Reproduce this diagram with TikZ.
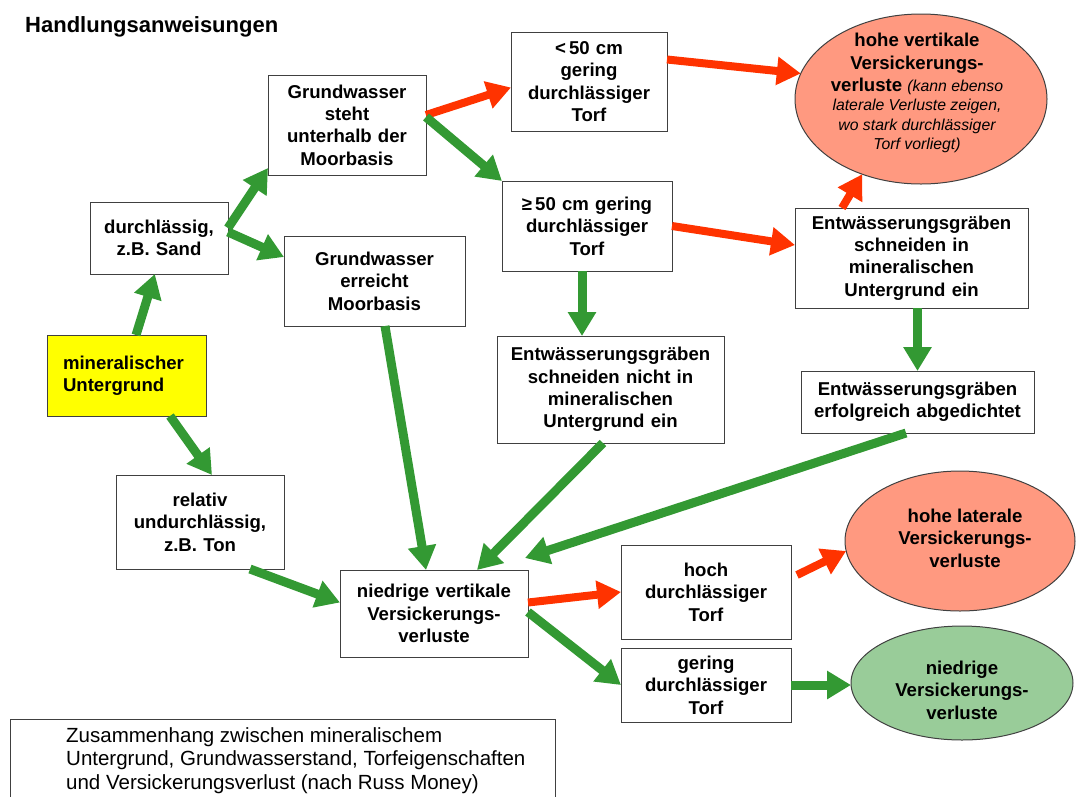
\documentclass[tikz,border=0pt]{standalone}
\usepackage{fontspec}
\setmainfont{Liberation Sans}
\usetikzlibrary{arrows.meta,shapes.geometric,calc}
\definecolor{grn}{HTML}{339933}
\definecolor{rd}{HTML}{FF3300}
\definecolor{salmon}{HTML}{FF9980}
\definecolor{lgreen}{HTML}{99CC99}
\definecolor{ylw}{HTML}{FFFF00}
\definecolor{edgec}{HTML}{404040}
\newcommand\boxfont{\fontsize{18.6}{22.4}\selectfont\bfseries}
\newcommand\smallit{\fontsize{15.8}{19}\selectfont\mdseries\itshape}
\newcommand\capfont{\fontsize{20.5}{23.5}\selectfont}
\begin{document}
\begin{tikzpicture}[x=1pt,y=-1pt,
  box/.style={draw=edgec, line width=1pt, fill=white, align=center, inner sep=0pt, outer sep=0pt, font=\boxfont},
  ell/.style={ellipse, draw=edgec, line width=1pt, inner sep=0pt, outer sep=0pt},
  lbl/.style={align=center, inner sep=0pt, font=\boxfont},
  garrow/.style={draw=grn, line width=9pt, -{Triangle[width=27pt,length=24pt]}},
  rarrow/.style={draw=rd, line width=8pt, -{Triangle[width=27pt,length=24pt]}}
]
\useasboundingbox (0,0) rectangle (1077,796);

\node[anchor=base west, inner sep=0pt, font=\fontsize{22}{26}\selectfont\bfseries] (title) at (25,32) {Handlungsanweisungen};

% boxes
\node[box, minimum width=138pt, minimum height=72pt, text width=132pt] (sand) at (159,238) {durchlässig,\\z.B. Sand};
\node[box, minimum width=158pt, minimum height=100pt, text width=152pt] (gwsteht) at (347,125) {Grundwasser\\steht\\unterhalb der\\Moorbasis};
\node[box, minimum width=181pt, minimum height=90pt, text width=175pt] (gwerreicht) at (374.5,281) {Grundwasser\\erreicht\\Moorbasis};
\node[box, minimum width=156pt, minimum height=99pt, text width=150pt] (lt50) at (589,81.5) {<\,50 cm\\gering\\durchlässiger\\Torf};
\node[box, minimum width=170pt, minimum height=90pt, text width=164pt] (ge50) at (587,226) {≥\,50 cm gering\\durchlässiger\\Torf};
\node[box, minimum width=227pt, minimum height=107pt, text width=221pt] (nicht) at (610.5,389.5) {Entwässerungsgräben\\schneiden nicht in\\mineralischen\\Untergrund ein};
\node[box, minimum width=233pt, minimum height=100pt, text width=227pt] (schnin) at (911.5,258) {Entwässerungsgräben\\schneiden in\\mineralischen\\Untergrund ein};
\node[box, minimum width=233pt, minimum height=62pt, text width=227pt] (abged) at (917.5,402) {Entwässerungsgräben\\erfolgreich abgedichtet};
\node[box, fill=ylw, align=left, minimum width=159pt, minimum height=81pt, text width=127pt, inner xsep=16pt] (miner) at (126.5,375.5) {mineralischer\\Untergrund};
\node[box, minimum width=168pt, minimum height=94pt, text width=162pt] (relativ) at (200,522) {relativ\\undurchlässig,\\z.B. Ton};
\node[box, minimum width=188pt, minimum height=87pt, text width=182pt] (niedrig) at (434,613.5) {niedrige vertikale\\Versickerungs-\\verluste};
\node[box, minimum width=170pt, minimum height=94pt, text width=164pt] (hoch) at (706,592) {hoch\\durchlässiger\\Torf};
\node[box, minimum width=170pt, minimum height=74pt, text width=164pt] (gering) at (706,685) {gering\\durchlässiger\\Torf};

% ellipses
\node[ell, fill=salmon, minimum width=252pt, minimum height=170pt] (hv) at (921,99) {};
\node[lbl, anchor=north] (hvt) at (917,33) {hohe vertikale\\Versickerungs-\\verluste {\smallit(kann ebenso}\\[-3pt]{\smallit laterale Verluste zeigen,}\\[-3pt]{\smallit wo stark durchlässiger}\\[-3pt]{\smallit Torf vorliegt)}};
\node[ell, fill=salmon, minimum width=230pt, minimum height=140pt] (hl) at (960,541) {};
\node[lbl] (hlt) at (965,538) {hohe laterale\\Versickerungs-\\verluste};
\node[ell, fill=lgreen, minimum width=222pt, minimum height=114pt] (nd) at (962,683) {};
\node[lbl] (ndt) at (962,690) {niedrige\\Versickerungs-\\verluste};

% caption
\node[draw=edgec, line width=1pt, anchor=north west, minimum width=545pt, minimum height=95pt, inner sep=0pt] (capbox) at (10,719) {};
\node[anchor=north west, align=left, inner sep=0pt, font=\capfont] (captext) at (66,727) {Zusammenhang zwischen mineralischem\\Untergrund, Grundwasserstand, Torfeigenschaften\\und Versickerungsverlust (nach Russ Money)};

% arrows
\draw[garrow] ($(miner.north west)!0.56!(miner.north east)$) -- ($(sand.south west)!0.47!(sand.south east)$);
\draw[garrow] ([yshift=10pt]sand.east) -- ([yshift=7pt]gwsteht.south west);
\draw[garrow] ([yshift=6pt]sand.east) -- ([yshift=-21pt]gwerreicht.north west);
\draw[rarrow] ([yshift=10pt]gwsteht.east) -- ([yshift=-6pt]lt50.west);
\draw[garrow] ([yshift=8pt]gwsteht.east) -- (ge50.north west);
\draw[rarrow] ([yshift=22pt]lt50.east) -- (hv.168);
\draw[rarrow] (ge50.east) -- ([yshift=13pt]schnin.west);
\draw[rarrow] ([xshift=47pt]schnin.north west) -- (hv.232);
\draw[garrow] ([xshift=-5pt]ge50.south) -- ([xshift=-28.5pt]nicht.north);
\draw[garrow] (abged.north |- schnin.south) -- (abged.north);
\draw[garrow] ([xshift=10.5pt]gwerreicht.south) -- ([xshift=-8pt]niedrig.north);
\draw[garrow] ([xshift=-7.5pt]nicht.south) -- ([xshift=43pt]niedrig.north);
\draw[garrow] ([xshift=-11.5pt]abged.south) -- ([shift={(-3pt,12pt)}]niedrig.north east);
\draw[garrow] ([xshift=43.5pt]miner.south) -- ([xshift=12pt]relativ.north);
\draw[garrow] ([xshift=50pt]relativ.south) -- ([yshift=11pt]niedrig.west);
\draw[rarrow] ([yshift=11pt]niedrig.east) -- (hoch.west);
\draw[garrow] ([yshift=1.5pt]niedrig.east) -- (gering.west);
\draw[rarrow] ([shift={(6pt,17pt)}]hoch.east) -- (hl.185);
\draw[garrow] (gering.east) -- (gering.east -| nd.west);
\end{tikzpicture}
\end{document}
